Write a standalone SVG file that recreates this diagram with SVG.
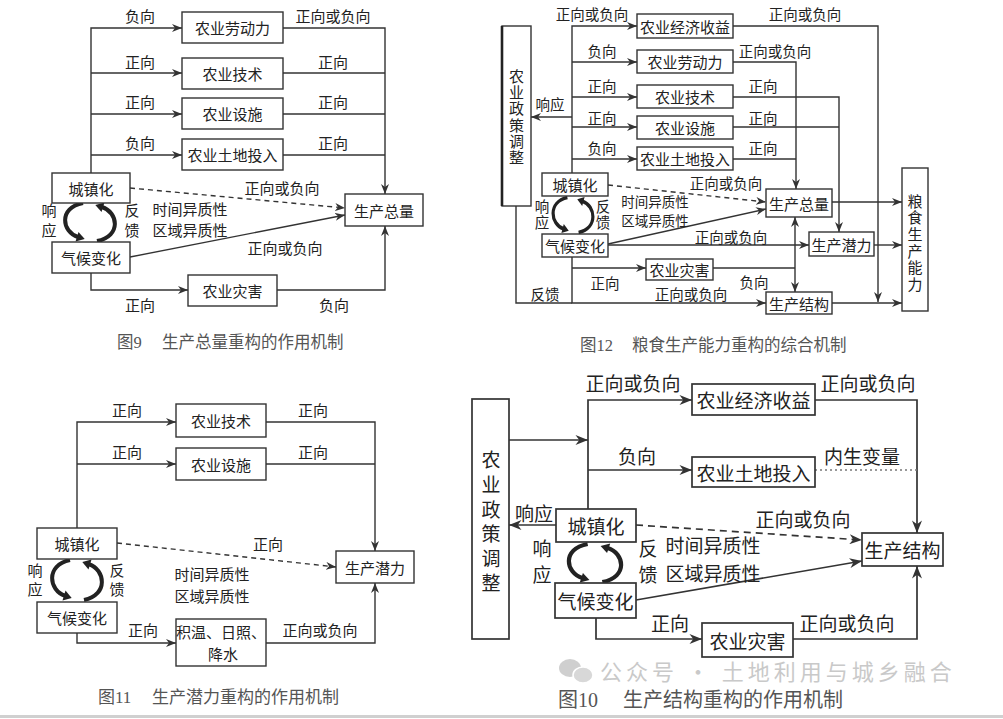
<svg xmlns="http://www.w3.org/2000/svg" xmlns:xlink="http://www.w3.org/1999/xlink" width="1003" height="719" viewBox="0 0 1003 719">
<style>
.bg{fill:#fff}
.box{fill:#fff;stroke:#333;stroke-width:1.4}
.boxL{fill:#fff;stroke:#333;stroke-width:1.7}
.ln{fill:none;stroke:#333;stroke-width:1.4}
.lnL{fill:none;stroke:#333;stroke-width:1.7}
.dash{fill:none;stroke:#333;stroke-width:1.4;stroke-dasharray:5 4}
.dashL{fill:none;stroke:#333;stroke-width:1.7;stroke-dasharray:7 5}
.dot{fill:none;stroke:#777;stroke-width:1.3;stroke-dasharray:2 3}
text{font-family:"Noto Sans CJK SC","Liberation Sans",sans-serif;fill:#222;text-anchor:middle;dominant-baseline:central}
.vt{writing-mode:vertical-rl;text-orientation:upright}
.t15{font-size:15px}
.t14{font-size:14.5px}
.t19{font-size:19px}
.cap{font-family:"Liberation Serif","Noto Sans CJK SC",serif;fill:#555;text-anchor:start}
.wm{font-size:22px;fill:#c9c9c9;text-anchor:start;letter-spacing:4px}
</style>
<defs>
<marker id="ah" viewBox="0 0 10 8" refX="10" refY="4" markerWidth="10" markerHeight="8" orient="auto-start-reverse" markerUnits="userSpaceOnUse"><path d="M0,0 L10,4 L0,8 L3,4 z" fill="#333"/></marker>
<marker id="ahL" viewBox="0 0 10 8" refX="10" refY="4" markerWidth="13" markerHeight="10" orient="auto" markerUnits="userSpaceOnUse"><path d="M0,0 L10,4 L0,8 L3,4 z" fill="#333"/></marker>
<g id="cyc">
<path d="M-7,-19 C-32,-14 -28,10 -12,15" fill="none" stroke="#222" stroke-width="4"/>
<path d="M-14.5,19.5 L-5.3,17.1 L-11.5,9.9 z" fill="#222"/>
<path d="M7,19 C32,14 28,-10 12,-15" fill="none" stroke="#222" stroke-width="4"/>
<path d="M14.5,-19.5 L5.3,-17.1 L11.5,-9.9 z" fill="#222"/>
</g>
</defs>
<rect class="bg" x="0" y="0" width="1003" height="719"/>

<!-- ================= Figure 9 ================= -->
<g id="fig9-connectors">
<path class="ln" d="M91,173 V28 H182" marker-end="url(#ah)"/>
<path class="ln" d="M91,73 H182" marker-end="url(#ah)"/>
<path class="ln" d="M91,114 H182" marker-end="url(#ah)"/>
<path class="ln" d="M91,155 H182" marker-end="url(#ah)"/>
<path class="ln" d="M283,28 H385 V194" marker-end="url(#ah)"/>
<path class="ln" d="M283,73 H385"/>
<path class="ln" d="M283,114 H385"/>
<path class="ln" d="M283,155 H385"/>
<path class="dash" d="M130,188 L345,208" marker-end="url(#ah)"/>
<path class="ln" d="M130,257 L345,215" marker-end="url(#ah)"/>
<path class="ln" d="M91,273 V290 H188" marker-end="url(#ah)"/>
<path class="ln" d="M277,290 H385 V226" marker-end="url(#ah)"/>
<use xlink:href="#cyc" transform="translate(90,222)"/>
</g>
<g id="fig9-labels" class="t15">
<text x="140" y="15">负向</text><text x="333" y="15">正向或负向</text>
<text x="140" y="61">正向</text><text x="333" y="61">正向</text>
<text x="140" y="101">正向</text><text x="333" y="101">正向</text>
<text x="140" y="142">负向</text><text x="333" y="142">正向</text>
<text x="282" y="187">正向或负向</text>
<text x="190" y="208">时间异质性</text><text x="190" y="229">区域异质性</text>
<text x="285" y="247">正向或负向</text>
<text class="vt" x="49" y="223" letter-spacing="5">响应</text>
<text class="vt" x="132" y="223" letter-spacing="5">反馈</text>
<text x="140" y="304">正向</text><text x="334" y="304">负向</text>
</g>
<g id="n9-labor"><rect class="box" x="182" y="12" width="101" height="31"/><text class="t15" x="232.5" y="27.5">农业劳动力</text></g>
<g id="n9-tech"><rect class="box" x="182" y="58" width="101" height="31"/><text class="t15" x="232.5" y="73.5">农业技术</text></g>
<g id="n9-fac"><rect class="box" x="182" y="98" width="101" height="31"/><text class="t15" x="232.5" y="113.5">农业设施</text></g>
<g id="n9-land"><rect class="box" x="182" y="139" width="101" height="31"/><text class="t15" x="232.5" y="154.5">农业土地投入</text></g>
<g id="n9-urban"><rect class="box" x="52" y="173" width="78" height="30"/><text class="t15" x="91" y="188">城镇化</text></g>
<g id="n9-climate"><rect class="box" x="52" y="242" width="78" height="31"/><text class="t15" x="91" y="257.5">气候变化</text></g>
<g id="n9-total"><rect class="box" x="345" y="194" width="78" height="32"/><text class="t15" x="384" y="210">生产总量</text></g>
<g id="n9-disaster"><rect class="box" x="188" y="275" width="89" height="31"/><text class="t15" x="232.5" y="290.5">农业灾害</text></g>
<g id="cap9"><text class="cap" x="117" y="342" font-size="16.5">图9</text><text class="cap" x="162" y="342" font-size="16.5">生产总量重构的作用机制</text></g>

<!-- ================= Figure 12 ================= -->
<g id="fig12-connectors">
<path class="ln" d="M572,173 V26 H637" marker-end="url(#ah)"/>
<path class="ln" d="M572,62 H637" marker-end="url(#ah)"/>
<path class="ln" d="M572,97 H637" marker-end="url(#ah)"/>
<path class="ln" d="M572,127 H637" marker-end="url(#ah)"/>
<path class="ln" d="M572,159 H637" marker-end="url(#ah)"/>
<path class="ln" d="M572,117 H531" marker-end="url(#ah)"/>
<path class="ln" d="M733,26 H878 V302" marker-end="url(#ah)"/>
<path class="ln" d="M733,62 H796 V189" marker-end="url(#ah)"/>
<path class="ln" d="M733,159 H796"/>
<path class="ln" d="M733,97 H839 V232" marker-end="url(#ah)"/>
<path class="ln" d="M733,127 H839"/>
<path class="dash" d="M608,185 L766,202" marker-end="url(#ah)"/>
<path class="ln" d="M608,244 L766,209" marker-end="url(#ah)"/>
<path class="ln" d="M608,245 H809" marker-end="url(#ah)"/>
<path class="ln" d="M832,202 H902" marker-end="url(#ah)"/>
<path class="ln" d="M874,245 H902" marker-end="url(#ah)"/>
<path class="ln" d="M832,303 H902" marker-end="url(#ah)"/>
<path class="ln" d="M795,217 V292" marker-start="url(#ah)" marker-end="url(#ah)"/>
<path class="ln" d="M572,257 V303 H766" marker-end="url(#ah)"/>
<path class="ln" d="M572,268 H646" marker-end="url(#ah)"/>
<path class="ln" d="M713,268 H795"/>
<path class="ln" d="M516,206 V303 H572"/>
<use xlink:href="#cyc" transform="translate(573,215) scale(0.8,0.92)"/>
</g>
<g id="fig12-labels" class="t14">
<text x="592" y="13">正向或负向</text><text x="805" y="13">正向或负向</text>
<text x="602" y="50">负向</text><text x="775" y="50">正向或负向</text>
<text x="602" y="85">正向</text><text x="763" y="85">正向</text>
<text x="602" y="117">正向</text><text x="763" y="117">正向</text>
<text x="602" y="147">负向</text><text x="763" y="147">正向</text>
<text x="550" y="103">响应</text>
<text x="726" y="182">正向或负向</text>
<text x="655" y="200.5" font-size="13.5">时间异质性</text><text x="655" y="219.5" font-size="13.5">区域异质性</text>
<text x="731" y="236">正向或负向</text>
<text class="vt" x="542" y="215" letter-spacing="1.5">响应</text>
<text class="vt" x="603" y="215" letter-spacing="1.5">反馈</text>
<text x="605" y="282">正向</text><text x="754" y="281">负向</text>
<text x="691" y="293">正向或负向</text>
<text x="545" y="293">反馈</text>
</g>
<g id="n12-policy"><rect class="box" x="502" y="26" width="29" height="180"/><path d="M502,26 V206" stroke="#222" stroke-width="2.6"/>
<text class="t15 vt" x="516.5" y="117.5" letter-spacing="1.2">农业政策调整</text></g>
<g id="n12-econ"><rect class="box" x="637" y="14" width="96" height="24"/><text class="t15" x="685" y="26">农业经济收益</text></g>
<g id="n12-labor"><rect class="box" x="637" y="50" width="96" height="23"/><text class="t15" x="685" y="61.5">农业劳动力</text></g>
<g id="n12-tech"><rect class="box" x="637" y="85" width="96" height="23"/><text class="t15" x="685" y="96.5">农业技术</text></g>
<g id="n12-fac"><rect class="box" x="637" y="116" width="96" height="23"/><text class="t15" x="685" y="127.5">农业设施</text></g>
<g id="n12-land"><rect class="box" x="637" y="147" width="96" height="23"/><text class="t15" x="685" y="158.5">农业土地投入</text></g>
<g id="n12-urban"><rect class="box" x="542" y="173" width="66" height="23"/><text class="t15" x="575" y="184.5">城镇化</text></g>
<g id="n12-climate"><rect class="box" x="542" y="234" width="66" height="23"/><text class="t15" x="575" y="245.5">气候变化</text></g>
<g id="n12-total"><rect class="box" x="766" y="189" width="66" height="28"/><text class="t15" x="799" y="203">生产总量</text></g>
<g id="n12-potential"><rect class="box" x="809" y="232" width="65" height="24"/><text class="t15" x="841.5" y="244">生产潜力</text></g>
<g id="n12-structure"><rect class="box" x="766" y="292" width="66" height="22"/><text class="t15" x="799" y="303">生产结构</text></g>
<g id="n12-disaster"><rect class="box" x="646" y="259" width="67" height="21"/><text class="t15" x="679.5" y="269.5">农业灾害</text></g>
<g id="n12-grain"><rect class="box" x="902" y="168" width="26" height="143"/>
<text class="t15 vt" x="915" y="243.5" letter-spacing="1.6">粮食生产能力</text></g>
<g id="cap12"><text class="cap" x="580" y="345" font-size="16.5">图12</text><text class="cap" x="632" y="345" font-size="16.5">粮食生产能力重构的综合机制</text></g>

<!-- ================= Figure 11 ================= -->
<g id="fig11-connectors">
<path class="ln" d="M77,528 V422 H176" marker-end="url(#ah)"/>
<path class="ln" d="M77,464 H176" marker-end="url(#ah)"/>
<path class="ln" d="M266,422 H375 V551" marker-end="url(#ah)"/>
<path class="ln" d="M266,464 H375"/>
<path class="dash" d="M117,543 L336,567" marker-end="url(#ah)"/>
<path class="ln" d="M77,633 V643 H176" marker-end="url(#ah)"/>
<path class="ln" d="M266,643 H375 V583" marker-end="url(#ah)"/>
<use xlink:href="#cyc" transform="translate(77,580) scale(1,1.05)"/>
</g>
<g id="fig11-labels" class="t15">
<text x="127" y="409">正向</text><text x="313" y="409">正向</text>
<text x="127" y="451">正向</text><text x="313" y="451">正向</text>
<text x="268" y="543">正向</text>
<text x="212" y="573">时间异质性</text><text x="212" y="595">区域异质性</text>
<text class="vt" x="35" y="581.5" letter-spacing="4">响应</text>
<text class="vt" x="117" y="581.5" letter-spacing="4">反馈</text>
<text x="143" y="629">正向</text><text x="320" y="629">正向或负向</text>
</g>
<g id="n11-tech"><rect class="box" x="176" y="404" width="90" height="33"/><text class="t15" x="221" y="420.5">农业技术</text></g>
<g id="n11-fac"><rect class="box" x="176" y="448" width="90" height="32"/><text class="t15" x="221" y="464">农业设施</text></g>
<g id="n11-urban"><rect class="box" x="37" y="528" width="80" height="31"/><text class="t15" x="77" y="543.5">城镇化</text></g>
<g id="n11-climate"><rect class="box" x="37" y="602" width="80" height="31"/><text class="t15" x="77" y="617.5">气候变化</text></g>
<g id="n11-potential"><rect class="box" x="336" y="551" width="78" height="32"/><text class="t15" x="375" y="567">生产潜力</text></g>
<g id="n11-accum"><rect class="box" x="176" y="619" width="90" height="47"/><text class="t15" x="221" y="631">积温、日照、</text><text class="t15" x="223" y="653">降水</text></g>
<g id="cap11"><text class="cap" x="98" y="697" font-size="17">图11</text><text class="cap" x="152" y="697" font-size="17">生产潜力重构的作用机制</text></g>

<!-- ================= Figure 10 ================= -->
<g id="fig10-connectors">
<path class="lnL" d="M509,440 H588" marker-end="url(#ahL)"/>
<path class="lnL" d="M588,509 V400 H692" marker-end="url(#ahL)"/>
<path class="lnL" d="M588,470 H692" marker-end="url(#ahL)"/>
<path class="lnL" d="M556,525 H509" marker-end="url(#ahL)"/>
<path class="lnL" d="M815,400 H917 V533" marker-end="url(#ahL)"/>
<path class="dot" d="M815,470 H917"/>
<path class="dashL" d="M636,525 L862,540" marker-end="url(#ahL)"/>
<path class="lnL" d="M636,600 L862,561" marker-end="url(#ahL)"/>
<path class="lnL" d="M596,618 V639 H702" marker-end="url(#ahL)"/>
<path class="lnL" d="M793,639 H917 V566" marker-end="url(#ahL)"/>
<use xlink:href="#cyc" transform="translate(595,563) scale(1.05,1)"/>
</g>
<g id="fig10-labels" class="t19">
<text x="633" y="382">正向或负向</text><text x="868" y="382">正向或负向</text>
<text x="637" y="455">负向</text><text x="862" y="455">内生变量</text>
<text x="534" y="512">响应</text>
<text x="803" y="518">正向或负向</text>
<text x="713" y="544.5">时间异质性</text><text x="713" y="572">区域异质性</text>
<text class="vt" x="542" y="565" letter-spacing="7">响应</text>
<text class="vt" x="648" y="565" letter-spacing="7">反馈</text>
<text x="670" y="622">正向</text><text x="847" y="622">正向或负向</text>
</g>
<g id="n10-policy"><rect class="boxL" x="472" y="399" width="37" height="240"/>
<text class="t19 vt" x="491" y="524.5" letter-spacing="5.6">农业政策调整</text></g>
<g id="n10-econ"><rect class="boxL" x="692" y="384" width="123" height="31"/><text class="t19" x="753.5" y="399.5">农业经济收益</text></g>
<g id="n10-land"><rect class="boxL" x="692" y="457" width="123" height="30"/><text class="t19" x="753.5" y="472">农业土地投入</text></g>
<g id="n10-urban"><rect class="boxL" x="556" y="509" width="80" height="33"/><text class="t19" x="596" y="525.5">城镇化</text></g>
<g id="n10-climate"><rect class="boxL" x="555" y="583" width="81" height="35"/><text class="t19" x="595.5" y="600.5">气候变化</text></g>
<g id="n10-structure"><rect class="boxL" x="862" y="533" width="81" height="33"/><text class="t19" x="902.5" y="549.5">生产结构</text></g>
<g id="n10-disaster"><rect class="boxL" x="702" y="623" width="91" height="34"/><text class="t19" x="747.5" y="640">农业灾害</text></g>
<g id="cap10"><text class="cap" x="558" y="700" font-size="20">图10</text><text class="cap" x="623" y="700" font-size="20">生产结构重构的作用机制</text></g>

<!-- watermark -->
<g id="watermark">
<ellipse cx="570" cy="668" rx="11" ry="9" fill="#cfcfcf"/>
<ellipse cx="583" cy="675" rx="10" ry="8" fill="#d8d8d8" stroke="#fff" stroke-width="1.5"/>
<text class="wm" x="600" y="670">公众号 · 土地利用与城乡融合</text>
</g>
<rect x="0" y="715" width="1003" height="3" fill="#d0d0d0"/>
</svg>
